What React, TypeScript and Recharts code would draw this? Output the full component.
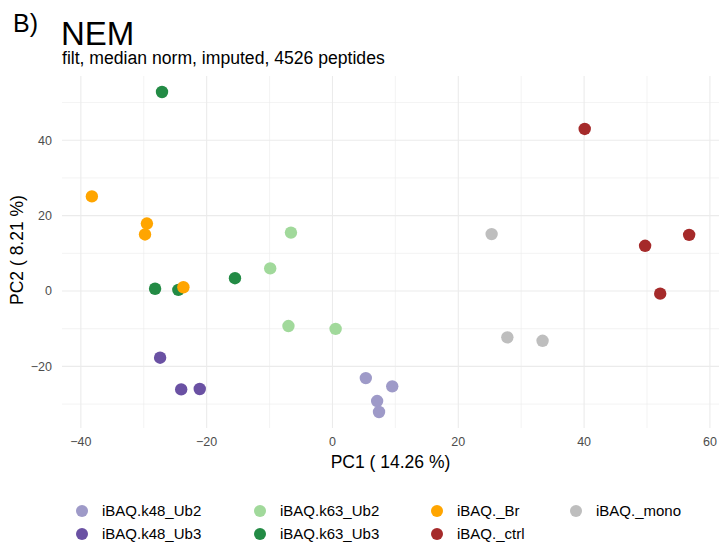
import React from 'react';
import { ScatterChart, Scatter, XAxis, YAxis, CartesianGrid } from 'recharts';

// PCA scores per sample group (PC1, PC2)
const k48Ub2 = [
  { pc1: 5.3, pc2: -23.1 },
  { pc1: 9.5, pc2: -25.3 },
  { pc1: 7.1, pc2: -29.2 },
  { pc1: 7.4, pc2: -32.1 },
];
const k48Ub3 = [
  { pc1: -27.4, pc2: -17.7 },
  { pc1: -24.05, pc2: -26.1 },
  { pc1: -21.1, pc2: -26.0 },
];
const k63Ub2 = [
  { pc1: -6.6, pc2: 15.5 },
  { pc1: -9.9, pc2: 6.0 },
  { pc1: -7.0, pc2: -9.3 },
  { pc1: 0.5, pc2: -10.05 },
];
const k63Ub3 = [
  { pc1: -27.1, pc2: 52.8 },
  { pc1: -28.2, pc2: 0.6 },
  { pc1: -24.5, pc2: 0.3 },
  { pc1: -15.5, pc2: 3.4 },
];
const br = [
  { pc1: -38.25, pc2: 25.1 },
  { pc1: -29.5, pc2: 17.9 },
  { pc1: -29.8, pc2: 15.0 },
  { pc1: -23.7, pc2: 1.0 },
];
const ctrl = [
  { pc1: 40.1, pc2: 43.0 },
  { pc1: 49.7, pc2: 12.0 },
  { pc1: 56.7, pc2: 14.9 },
  { pc1: 52.1, pc2: -0.7 },
];
const mono = [
  { pc1: 25.3, pc2: 15.1 },
  { pc1: 27.8, pc2: -12.3 },
  { pc1: 33.4, pc2: -13.2 },
];

const xTicks = [-40, -20, 0, 20, 40, 60];
const yTicks = [-20, 0, 20, 40];
const xMinor = [-30, -10, 10, 30, 50];
const yMinor = [-30, -10, 10, 30, 50];

const groups = [
  { name: 'iBAQ.k48_Ub2', data: k48Ub2, color: '#9E9AC8' },
  { name: 'iBAQ.k48_Ub3', data: k48Ub3, color: '#6A51A3' },
  { name: 'iBAQ.k63_Ub2', data: k63Ub2, color: '#A1D99B' },
  { name: 'iBAQ.k63_Ub3', data: k63Ub3, color: '#238B45' },
  { name: 'iBAQ._Br', data: br, color: '#FFA500' },
  { name: 'iBAQ._ctrl', data: ctrl, color: '#A52A2A' },
  { name: 'iBAQ._mono', data: mono, color: '#BEBEBE' },
];

// ggplot-style 5% expansion around the data range
const expand = (vals: number[]): [number, number] => {
  const lo = Math.min(...vals);
  const hi = Math.max(...vals);
  const pad = (hi - lo) * 0.05;
  return [lo - pad, hi + pad];
};
const allPoints = groups.flatMap(g => g.data);
const xDomain = expand(allPoints.map(p => p.pc1));
const yDomain = expand(allPoints.map(p => p.pc2));

const FONT = "'Liberation Sans', Arial, Helvetica, sans-serif";
const fmt = (v: number) => String(v).replace('-', '\u2212');

// legend layout: two rows, filled column by column
const legendCols = [102, 280, 457, 596];
const legendRows = [511, 534];

export default function App() {
  return (
    <div style={{ position: 'absolute', left: 0, top: 0, width: 721, height: 543, background: '#fff', fontFamily: FONT }}>
      <ScatterChart width={721} height={543} margin={{ top: 76, right: 2, bottom: 70, left: 0 }}>
        <CartesianGrid stroke="#EBEBEB" strokeWidth={0.6} verticalValues={xMinor} horizontalValues={yMinor} />
        <CartesianGrid stroke="#EBEBEB" strokeWidth={1.1} verticalValues={xTicks} horizontalValues={yTicks} />
        <XAxis
          type="number"
          dataKey="pc1"
          domain={xDomain}
          allowDataOverflow
          ticks={xTicks}
          tickFormatter={fmt}
          axisLine={false}
          tickLine={false}
          tickSize={6}
          tickMargin={3}
          height={45}
          tick={{ fill: '#4D4D4D', fontSize: 12.5, fontFamily: FONT }}
        />
        <YAxis
          type="number"
          dataKey="pc2"
          domain={yDomain}
          allowDataOverflow
          ticks={yTicks}
          tickFormatter={fmt}
          axisLine={false}
          tickLine={false}
          tickSize={6}
          tickMargin={4}
          width={62}
          tick={{ fill: '#4D4D4D', fontSize: 12.5, fontFamily: FONT }}
        />
        {groups.map(g => (
          <Scatter
            key={g.name}
            name={g.name}
            data={g.data}
            isAnimationActive={false}
            shape={(p: any) => <circle cx={p.cx} cy={p.cy} r={6.2} fill={g.color} />}
          />
        ))}
      </ScatterChart>

      <svg width={721} height={543} style={{ position: 'absolute', left: 0, top: 0, pointerEvents: 'none' }} fontFamily={FONT}>
        <text x={13} y={31.5} fontSize={25} fill="#000">B)</text>
        <text x={61} y={45} fontSize={33} fill="#000">NEM</text>
        <text x={62} y={63.5} fontSize={17.6} fill="#000">filt, median norm, imputed, 4526 peptides</text>

        <text x={390.5} y={468} fontSize={17.5} textAnchor="middle" fill="#000">PC1 ( 14.26 %)</text>
        <text x={23} y={250} fontSize={17.5} textAnchor="middle" fill="#000" transform="rotate(-90, 23, 250)">
          PC2 ( 8.21 %)
        </text>

        {groups.map((g, i) => {
          const col = Math.floor(i / 2);
          const row = i % 2;
          const tx = legendCols[col];
          const ty = legendRows[row];
          return (
            <g key={g.name}>
              <circle cx={tx - 20} cy={ty} r={6} fill={g.color} />
              <text x={tx} y={ty + 5.3} fontSize={15} fill="#000">{g.name}</text>
            </g>
          );
        })}
      </svg>
    </div>
  );
}
